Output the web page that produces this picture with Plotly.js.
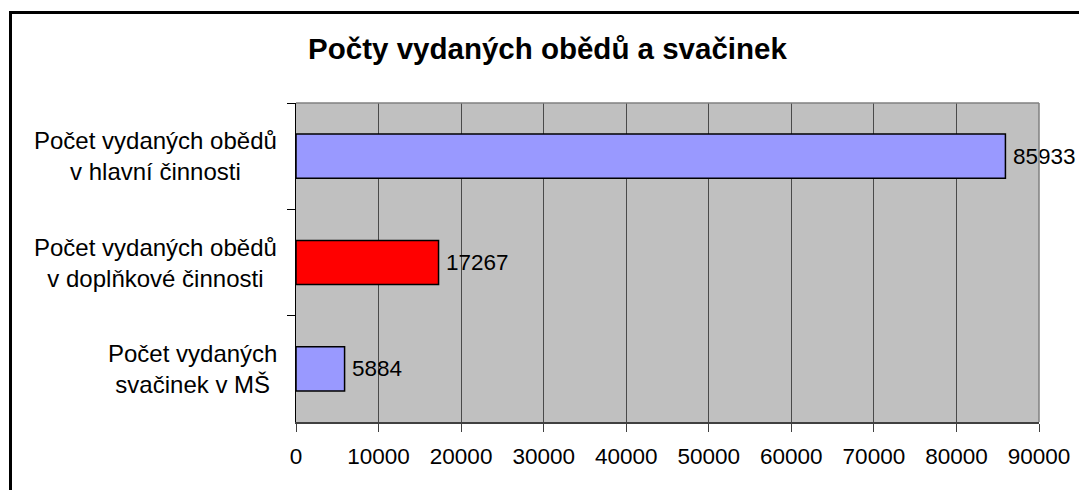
<!DOCTYPE html>
<html>
<head>
<meta charset="utf-8">
<script src="https://cdn.plot.ly/plotly-3.0.1.min.js"></script>
<style>
  html, body { margin: 0; padding: 0; background: #fff; }
  #chart { width: 1079px; height: 490px; }
</style>
</head>
<body>
<div id="chart"></div>
<script>
const categories = [
  "Počet vydaných obědů<br>v hlavní činnosti",
  "Počet vydaných obědů<br>v doplňkové činnosti",
  "Počet vydaných<br>svačinek v MŠ"
];
const values = [85933, 17267, 5884];
const barColors = ["#9999FF", "#FF0000", "#9999FF"];
const xTickValues = [0, 10000, 20000, 30000, 40000, 50000, 60000, 70000, 80000, 90000];
const chartTitle = "Počty vydaných obědů a svačinek";

const FONT = '"Liberation Sans", Arial, sans-serif';

const trace = {
  type: 'bar',
  orientation: 'h',
  x: values,
  y: categories,
  marker: { color: barColors, line: { color: '#000000', width: 1.5 } },
  text: values.map(v => '\u2009' + String(v)),
  texttemplate: '%{text}',
  textposition: 'outside',
  cliponaxis: false,
  textfont: { family: FONT, size: 22.5, color: '#000' },
  hoverinfo: 'none'
};

const labelAnnotations = categories.map(c => ({
  xref: 'paper', yref: 'y',
  x: 0, y: c,
  xanchor: 'right', yanchor: 'middle',
  xshift: -17,
  align: 'center',
  text: c,
  showarrow: false,
  font: { family: FONT, size: 24, color: '#000' }
}));

const layout = {
  width: 1079, height: 490,
  margin: { l: 296, r: 40, t: 103, b: 68, pad: 0 },
  paper_bgcolor: '#FFFFFF',
  plot_bgcolor: '#C0C0C0',
  showlegend: false,
  bargap: 0.585,
  font: { family: FONT, color: '#000' },
  title: {
    text: '<b>' + chartTitle + '</b>',
    font: { family: FONT, size: 29.5, color: '#000' },
    xref: 'container', yref: 'container',
    x: 547.5 / 1079, xanchor: 'center',
    y: 1 - 49 / 490, yanchor: 'middle'
  },
  xaxis: {
    range: [0, 90000],
    tickvals: xTickValues,
    ticktext: xTickValues.map(String),
    showgrid: true,
    gridcolor: '#4a4a4a',
    gridwidth: 1,
    zeroline: false,
    showline: true,
    linecolor: '#404040',
    linewidth: 1.5,
    ticks: 'outside',
    ticklen: 8,
    tickcolor: '#404040',
    tickwidth: 1,
    ticklabelstandoff: 5,
    tickfont: { family: FONT, size: 22.5, color: '#000' },
    fixedrange: true
  },
  yaxis: {
    type: 'category',
    categoryorder: 'array',
    categoryarray: categories,
    autorange: 'reversed',
    showticklabels: false,
    ticks: 'outside',
    tickson: 'boundaries',
    ticklen: 8,
    tickcolor: '#000',
    tickwidth: 1,
    showgrid: false,
    zeroline: false,
    showline: true,
    linecolor: '#000',
    linewidth: 1.5,
    fixedrange: true
  },
  annotations: labelAnnotations,
  shapes: [
    { type: 'line', xref: 'paper', yref: 'paper', x0: 0, x1: 1, y0: 1, y1: 1,
      line: { color: '#808080', width: 1.5 } },
    { type: 'line', xref: 'paper', yref: 'paper', x0: 1, x1: 1, y0: 0, y1: 1,
      line: { color: '#808080', width: 1.5 } },
    { type: 'rect', xref: 'paper', yref: 'paper',
      x0: (10.5 - 296) / 743, x1: (1100 - 296) / 743,
      y0: (422 - 520) / 319, y1: (422 - 12.5) / 319,
      line: { color: '#000', width: 3 }, fillcolor: 'rgba(0,0,0,0)' }
  ]
};

Plotly.newPlot('chart', [trace], layout, { staticPlot: true, displayModeBar: false });
</script>
</body>
</html>
